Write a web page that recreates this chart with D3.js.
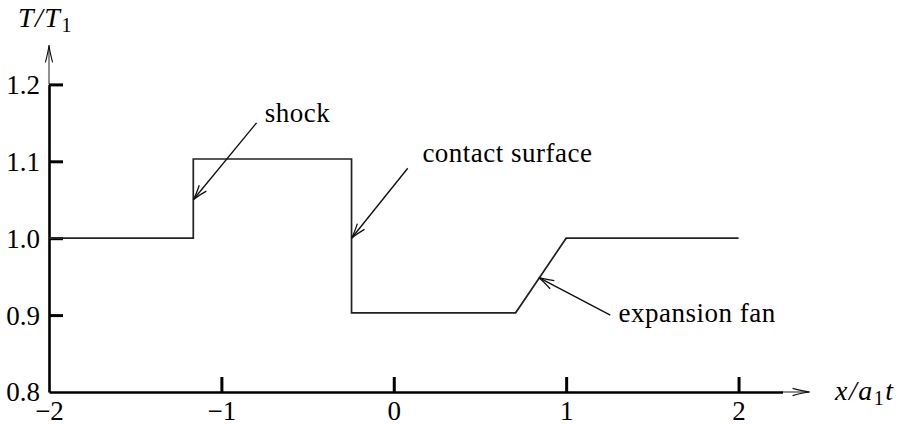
<!DOCTYPE html>
<html>
<head>
<meta charset="utf-8">
<script src="https://cdn.jsdelivr.net/npm/d3@7/dist/d3.min.js"></script>
<style>
  html, body { margin: 0; padding: 0; background: #fff; }
  svg { display: block; }
  text { font-family: "Liberation Serif", "DejaVu Serif", serif; fill: #000; }
</style>
</head>
<body>
<svg id="chart" width="903" height="424"></svg>
<script>
// Temperature profile across the shock tube (piecewise)
const xPos  = [-2, -1.163, -1.163, -0.245, -0.245, 0.707, 1.0, 2.0];
const tempT = [1.0, 1.0, 1.103, 1.103, 0.903, 0.903, 1.0, 1.0];

// Tick values
const xTicks = [-2, -1, 0, 1, 2];
const yTicks = [0.8, 0.9, 1.0, 1.1, 1.2];

// Annotations: label, arrow tip and tail, label anchor (all in data units)
const noteLabels = ["shock", "contact surface", "expansion fan"];
const noteTip    = [[-1.163, 1.05], [-0.245, 1.0], [0.842, 0.9486]];
const noteTail   = [[-0.796, 1.150], [0.081, 1.091], [1.256, 0.900]];
const noteText   = [[-0.748, 1.1505], [0.166, 1.0985], [1.304, 0.8915]];

const svg = d3.select("#chart");
const fontSize = 27;

const x = d3.scaleLinear().domain([-2, 2.255]).range([49, 782.5]);
const y = d3.scaleLinear().domain([0.8, 1.2]).range([392, 84.4]);

// Arrowhead in the LaTeX style: two curved barbs
const defs = svg.append("defs");
function arrowMarker(id, len, half, sw) {
  defs.append("marker")
    .attr("id", id)
    .attr("markerUnits", "userSpaceOnUse")
    .attr("viewBox", `${-len - 2} ${-half - 2} ${len + 4} ${2 * half + 4}`)
    .attr("refX", 0).attr("refY", 0)
    .attr("markerWidth", len + 4).attr("markerHeight", 2 * half + 4)
    .attr("orient", "auto")
    .append("path")
    .attr("d", `M${-len},${-half} Q${-len * 0.4},${-half * 0.25} 0,0 Q${-len * 0.4},${half * 0.25} ${-len},${half}`)
    .attr("fill", "none")
    .attr("stroke", "#111")
    .attr("stroke-width", sw);
}
arrowMarker("head", 15, 4.6, 1.3);
arrowMarker("axisHead", 17, 3.6, 1.1);

// Axes
const xAxis = d3.axisBottom(x)
  .tickValues(xTicks)
  .tickSizeInner(-15)
  .tickSizeOuter(0)
  .tickPadding(0)
  .tickFormat(d => d < 0 ? "\u2212" + Math.abs(d) : String(d));

const yAxis = d3.axisLeft(y)
  .tickValues(yTicks)
  .tickSizeInner(-14)
  .tickSizeOuter(0)
  .tickPadding(9)
  .tickFormat(d3.format(".1f"));

const gx = svg.append("g").attr("transform", `translate(0,${y(0.8)})`).call(xAxis);
const gy = svg.append("g").attr("transform", `translate(${x(-2)},0)`).call(yAxis);

[gx, gy].forEach(g => {
  g.select(".domain").attr("stroke", "#000").attr("stroke-width", 2.6);
  g.selectAll(".tick line").attr("stroke", "#000").attr("stroke-width", 3);
  g.selectAll(".tick text")
    .attr("font-family", "'Liberation Serif', serif")
    .attr("font-size", fontSize)
    .attr("fill", "#000");
});
gx.selectAll(".tick").filter(d => d === -2).select("line").remove();
gy.selectAll(".tick").filter(d => d === 0.8).select("line").remove();
gx.selectAll(".tick text").attr("dy", null).attr("y", 27.5);
gy.selectAll(".tick text").attr("dy", "0.33em");

// Thin arrow extensions of the axes
svg.append("line")
  .attr("x1", x(2.255)).attr("y1", y(0.8))
  .attr("x2", x(2.412)).attr("y2", y(0.8))
  .attr("stroke", "#222").attr("stroke-width", 1)
  .attr("marker-end", "url(#axisHead)");
svg.append("line")
  .attr("x1", x(-2)).attr("y1", y(1.2))
  .attr("x2", x(-2)).attr("y2", y(1.2507))
  .attr("stroke", "#222").attr("stroke-width", 1)
  .attr("marker-end", "url(#axisHead)");

// Axis titles
const yTitle = svg.append("text")
  .attr("x", 18).attr("y", 27)
  .attr("font-size", 28)
  .attr("letter-spacing", 1.5);
yTitle.append("tspan").attr("font-style", "italic").text("T/T");
yTitle.append("tspan").attr("font-size", 20).attr("dy", 5).text("1");

const xTitle = svg.append("text")
  .attr("x", 835).attr("y", 400)
  .attr("font-size", 28)
  .attr("letter-spacing", 1.5);
xTitle.append("tspan").attr("font-style", "italic").text("x/a");
xTitle.append("tspan").attr("font-size", 20).attr("dy", 5).text("1");
xTitle.append("tspan").attr("font-style", "italic").attr("dy", -5).text("t");

// Temperature profile
const line = d3.line().x((d, i) => x(xPos[i])).y((d, i) => y(tempT[i]));
svg.append("path")
  .datum(tempT)
  .attr("d", line)
  .attr("fill", "none")
  .attr("stroke", "#222")
  .attr("stroke-width", 1.7)
  .attr("stroke-linejoin", "miter");

// Annotations
noteLabels.forEach((label, i) => {
  svg.append("line")
    .attr("x1", x(noteTail[i][0])).attr("y1", y(noteTail[i][1]))
    .attr("x2", x(noteTip[i][0])).attr("y2", y(noteTip[i][1]))
    .attr("stroke", "#111").attr("stroke-width", 1.4)
    .attr("marker-end", "url(#head)");
  svg.append("text")
    .attr("x", x(noteText[i][0])).attr("y", y(noteText[i][1]))
    .attr("font-size", fontSize)
    .attr("letter-spacing", 0.5)
    .text(label);
});
</script>
</body>
</html>
